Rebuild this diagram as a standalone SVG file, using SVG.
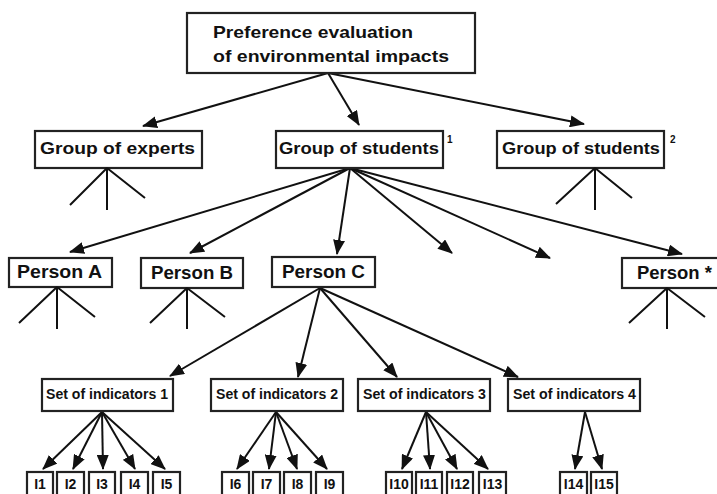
<svg xmlns="http://www.w3.org/2000/svg" width="717" height="494" viewBox="0 0 717 494">
<defs>
<marker id="ah" markerUnits="userSpaceOnUse" markerWidth="15" markerHeight="12" refX="14" refY="6" orient="auto">
<path d="M0,0 L15,6 L0,12 z" fill="#111"/>
</marker>
<style>
.box{fill:#fff;stroke:#222;stroke-width:2.2}
.t{font-family:"Liberation Sans",Arial,sans-serif;font-weight:bold;fill:#111}
.ln{stroke:#111;stroke-width:2;fill:none}
.ar{stroke:#111;stroke-width:2;fill:none;marker-end:url(#ah)}
</style>
</defs>
<rect width="717" height="494" fill="#fff"/>

<g id="connectors">
<line class="ar" x1="328" y1="73" x2="143" y2="126"/>
<line class="ar" x1="328" y1="73" x2="359" y2="125"/>
<line class="ar" x1="328" y1="73" x2="584" y2="124"/>

<line class="ar" x1="350" y1="168" x2="70" y2="252"/>
<line class="ar" x1="350" y1="168" x2="190" y2="253"/>
<line class="ar" x1="350" y1="168" x2="337" y2="254"/>
<line class="ar" x1="350" y1="168" x2="452" y2="253"/>
<line class="ar" x1="350" y1="168" x2="550" y2="258"/>
<line class="ar" x1="350" y1="168" x2="682" y2="254"/>

<line class="ar" x1="320" y1="288" x2="170" y2="376"/>
<line class="ar" x1="320" y1="288" x2="298" y2="377"/>
<line class="ar" x1="320" y1="288" x2="397" y2="377"/>
<line class="ar" x1="320" y1="288" x2="518" y2="377"/>

<line class="ar" x1="102" y1="412" x2="43" y2="469"/>
<line class="ar" x1="102" y1="412" x2="73" y2="469"/>
<line class="ar" x1="102" y1="412" x2="103" y2="469"/>
<line class="ar" x1="102" y1="412" x2="135" y2="469"/>
<line class="ar" x1="102" y1="412" x2="165" y2="469"/>

<line class="ar" x1="276" y1="412" x2="237" y2="469"/>
<line class="ar" x1="276" y1="412" x2="269" y2="469"/>
<line class="ar" x1="276" y1="412" x2="297" y2="469"/>
<line class="ar" x1="276" y1="412" x2="327" y2="469"/>

<line class="ar" x1="426" y1="412" x2="402" y2="469"/>
<line class="ar" x1="426" y1="412" x2="430" y2="469"/>
<line class="ar" x1="426" y1="412" x2="457" y2="469"/>
<line class="ar" x1="426" y1="412" x2="488" y2="469"/>

<line class="ar" x1="585" y1="412" x2="575" y2="469"/>
<line class="ar" x1="585" y1="412" x2="602" y2="469"/>
</g>

<g id="root">
<rect class="box" x="187" y="13" width="288" height="60"/>
<text class="t" x="213" y="38" font-size="17" textLength="200" lengthAdjust="spacingAndGlyphs">Preference evaluation</text>
<text class="t" x="213" y="62" font-size="17" textLength="236" lengthAdjust="spacingAndGlyphs">of environmental impacts</text>
</g>

<g id="experts">
<rect class="box" x="35" y="131" width="167" height="37"/>
<text class="t" x="40" y="154" font-size="17" textLength="155" lengthAdjust="spacingAndGlyphs">Group of experts</text>
<path class="ln" d="M107,168 L70,205 M107,168 L107,210 M107,168 L145,198"/>
</g>

<g id="students1">
<rect class="box" x="276" y="131" width="167" height="37"/>
<text class="t" x="279" y="154" font-size="17" textLength="160" lengthAdjust="spacingAndGlyphs">Group of students</text>
<text class="t" x="447" y="143" font-size="10">1</text>
</g>

<g id="students2">
<rect class="box" x="497" y="131" width="167" height="37"/>
<text class="t" x="502" y="154" font-size="17" textLength="158" lengthAdjust="spacingAndGlyphs">Group of students</text>
<text class="t" x="670" y="143" font-size="10">2</text>
<path class="ln" d="M595,168 L556,204 M595,168 L595,210 M595,168 L632,198"/>
</g>

<g id="personA">
<rect class="box" x="9" y="258" width="103" height="29"/>
<text class="t" x="17" y="278" font-size="19" textLength="85" lengthAdjust="spacingAndGlyphs">Person A</text>
<path class="ln" d="M57,287 L19,323 M57,287 L57,329 M57,287 L95,317"/>
</g>

<g id="personB">
<rect class="box" x="141" y="258" width="102" height="30"/>
<text class="t" x="151" y="279" font-size="19" textLength="82" lengthAdjust="spacingAndGlyphs">Person B</text>
<path class="ln" d="M187,288 L150,323 M187,288 L187,329 M187,288 L225,317"/>
</g>

<g id="personC">
<rect class="box" x="272" y="257" width="103" height="30"/>
<text class="t" x="282" y="278" font-size="19" textLength="83" lengthAdjust="spacingAndGlyphs">Person C</text>
</g>

<g id="personStar">
<rect class="box" x="622" y="258" width="100" height="30"/>
<text class="t" x="637" y="279" font-size="19" textLength="75" lengthAdjust="spacingAndGlyphs">Person *</text>
<path class="ln" d="M667,288 L629,323 M667,288 L667,329 M667,288 L705,317"/>
</g>

<g id="set1">
<rect class="box" x="42" y="379" width="131" height="32"/>
<text class="t" x="46" y="399" font-size="14" textLength="122" lengthAdjust="spacingAndGlyphs">Set of indicators 1</text>
</g>
<g id="set2">
<rect class="box" x="211" y="379" width="132" height="32"/>
<text class="t" x="216" y="399" font-size="14" textLength="122" lengthAdjust="spacingAndGlyphs">Set of indicators 2</text>
</g>
<g id="set3">
<rect class="box" x="358" y="379" width="132" height="32"/>
<text class="t" x="363" y="399" font-size="14" textLength="123" lengthAdjust="spacingAndGlyphs">Set of indicators 3</text>
</g>
<g id="set4">
<rect class="box" x="508" y="379" width="132" height="32"/>
<text class="t" x="513" y="399" font-size="14" textLength="123" lengthAdjust="spacingAndGlyphs">Set of indicators 4</text>
</g>

<g id="indicators" font-size="14" text-anchor="middle">
<g id="i1"><rect class="box" x="27" y="472" width="26" height="30"/><text class="t" x="40" y="489">I1</text></g>
<g id="i2"><rect class="box" x="57" y="472" width="27" height="30"/><text class="t" x="70.5" y="489">I2</text></g>
<g id="i3"><rect class="box" x="89" y="472" width="26" height="30"/><text class="t" x="102" y="489">I3</text></g>
<g id="i4"><rect class="box" x="121" y="472" width="27" height="30"/><text class="t" x="134.5" y="489">I4</text></g>
<g id="i5"><rect class="box" x="153" y="472" width="27" height="30"/><text class="t" x="166.5" y="489">I5</text></g>
<g id="i6"><rect class="box" x="222" y="472" width="27" height="30"/><text class="t" x="235.5" y="489">I6</text></g>
<g id="i7"><rect class="box" x="253" y="472" width="27" height="30"/><text class="t" x="266.5" y="489">I7</text></g>
<g id="i8"><rect class="box" x="284" y="472" width="27" height="30"/><text class="t" x="297.5" y="489">I8</text></g>
<g id="i9"><rect class="box" x="316" y="472" width="27" height="30"/><text class="t" x="329.5" y="489">I9</text></g>
<g id="i10"><rect class="box" x="386" y="472" width="26" height="30"/><text class="t" x="399" y="489">I10</text></g>
<g id="i11"><rect class="box" x="416" y="472" width="26" height="30"/><text class="t" x="429" y="489">I11</text></g>
<g id="i12"><rect class="box" x="447" y="472" width="26" height="30"/><text class="t" x="460" y="489">I12</text></g>
<g id="i13"><rect class="box" x="479" y="472" width="27" height="30"/><text class="t" x="492.5" y="489">I13</text></g>
<g id="i14"><rect class="box" x="560" y="472" width="27" height="30"/><text class="t" x="573.5" y="489">I14</text></g>
<g id="i15"><rect class="box" x="591" y="472" width="26" height="30"/><text class="t" x="604" y="489">I15</text></g>
</g>
</svg>
